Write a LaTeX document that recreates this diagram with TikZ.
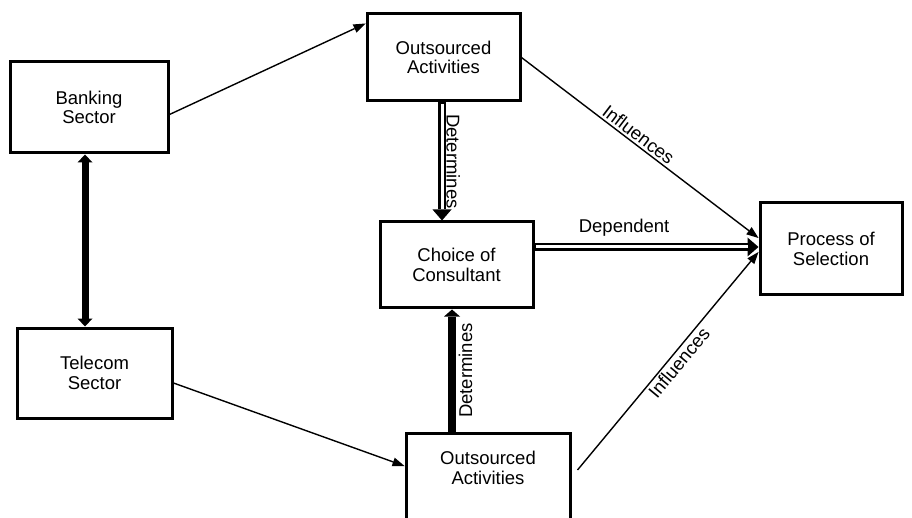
\documentclass[tikz,border=0pt]{standalone}
\usepackage{fontspec}
\setmainfont{Liberation Sans}
\usetikzlibrary{arrows.meta}
\begin{document}
\begin{tikzpicture}[x=1pt,y=-1pt,
  box/.style={draw, line width=3pt, align=center, inner sep=0pt,
    font=\fontsize{18.5}{19.5}\selectfont},
  txt/.style={align=center, inner sep=0pt, font=\fontsize{18.5}{19.5}\selectfont},
  lbl/.style={inner sep=2pt, font=\fontsize{18.5}{19.5}\selectfont},
  thinarrow/.style={line width=1.4pt, -{Triangle[length=12pt,width=9pt,line width=0pt]}},
  fatboth/.style={line width=7pt, {Triangle[length=8pt,width=15pt,line width=0pt]}-{Triangle[length=8pt,width=15pt,line width=0pt]}},
  fatone/.style={line width=7.5pt, -{Triangle[length=7pt,width=16pt,line width=0pt]}},
  dblouter/.style={line width=8.5pt, -{Triangle[length=11pt,width=19pt,line width=0pt]}},
  dblinner/.style={white, line width=3pt, shorten >=11pt, shorten <=1.6pt}
]
\useasboundingbox (0,0) rectangle (912,518);
\clip (0,0) rectangle (912,518);

% boxes
\node[box, minimum width=158pt, minimum height=91pt] (bank) at (89,107.5) {Banking\\Sector};
\node[box, minimum width=155pt, minimum height=90pt] (tel) at (94.5,373) {Telecom\\Sector};
\node[box, minimum width=153pt, minimum height=87pt] (outT) at (443.5,57.5) {Outsourced\\Activities};
\node[box, minimum width=153pt, minimum height=86pt] (choice) at (456.5,265) {Choice of\\Consultant};
\node[box, minimum width=142pt, minimum height=92pt] (proc) at (831,249) {Process of\\Selection};
\node[box, minimum width=164pt, minimum height=100pt] (outB) at (488,483) {};
\node[txt] (outBt) at (488,468) {Outsourced\\Activities};

% connectors
\draw[thinarrow] ([yshift=-7pt]bank.east) -- ([yshift=34pt]outT.west);
\draw[fatboth] ([xshift=-4pt]bank.south) -- ([xshift=-4pt]bank.south |- tel.north);

\draw[dblouter] ([xshift=-1.5pt]outT.south) -- ([xshift=-1.5pt]outT.south |- choice.north);
\draw[dblinner] ([xshift=-1.5pt]outT.south) -- ([xshift=-1.5pt]outT.south |- choice.north)
  node[lbl, sloped, above, midway, text=black, yshift=1pt] (detT) {Determines};

\draw[dblouter] ([yshift=18pt]choice.east) -- ([yshift=18pt]choice.east -| proc.west);
\draw[dblinner] ([yshift=18pt]choice.east) -- ([yshift=18pt]choice.east -| proc.west)
  node[lbl, above=7pt, pos=0.4, text=black] (dep) {Dependent};

\draw[thinarrow] (outT.east) -- ([yshift=11pt]proc.west)
  node[lbl, sloped, above, pos=0.47] (infT) {Influences};

\draw[thinarrow] ([yshift=-10pt]tel.east) -- ([yshift=17pt]outB.west);

\draw[fatone] ([xshift=-36pt]outB.north) -- ([xshift=-36pt]outB.north |- choice.south)
  node[lbl, sloped, below, midway, yshift=-1pt] (detB) {Determines};

\draw[thinarrow] ([xshift=6pt,yshift=13pt]outB.east) -- ([yshift=-3pt]proc.west)
  node[lbl, sloped, below, pos=0.52] (infB) {Influences};
\end{tikzpicture}
\end{document}
